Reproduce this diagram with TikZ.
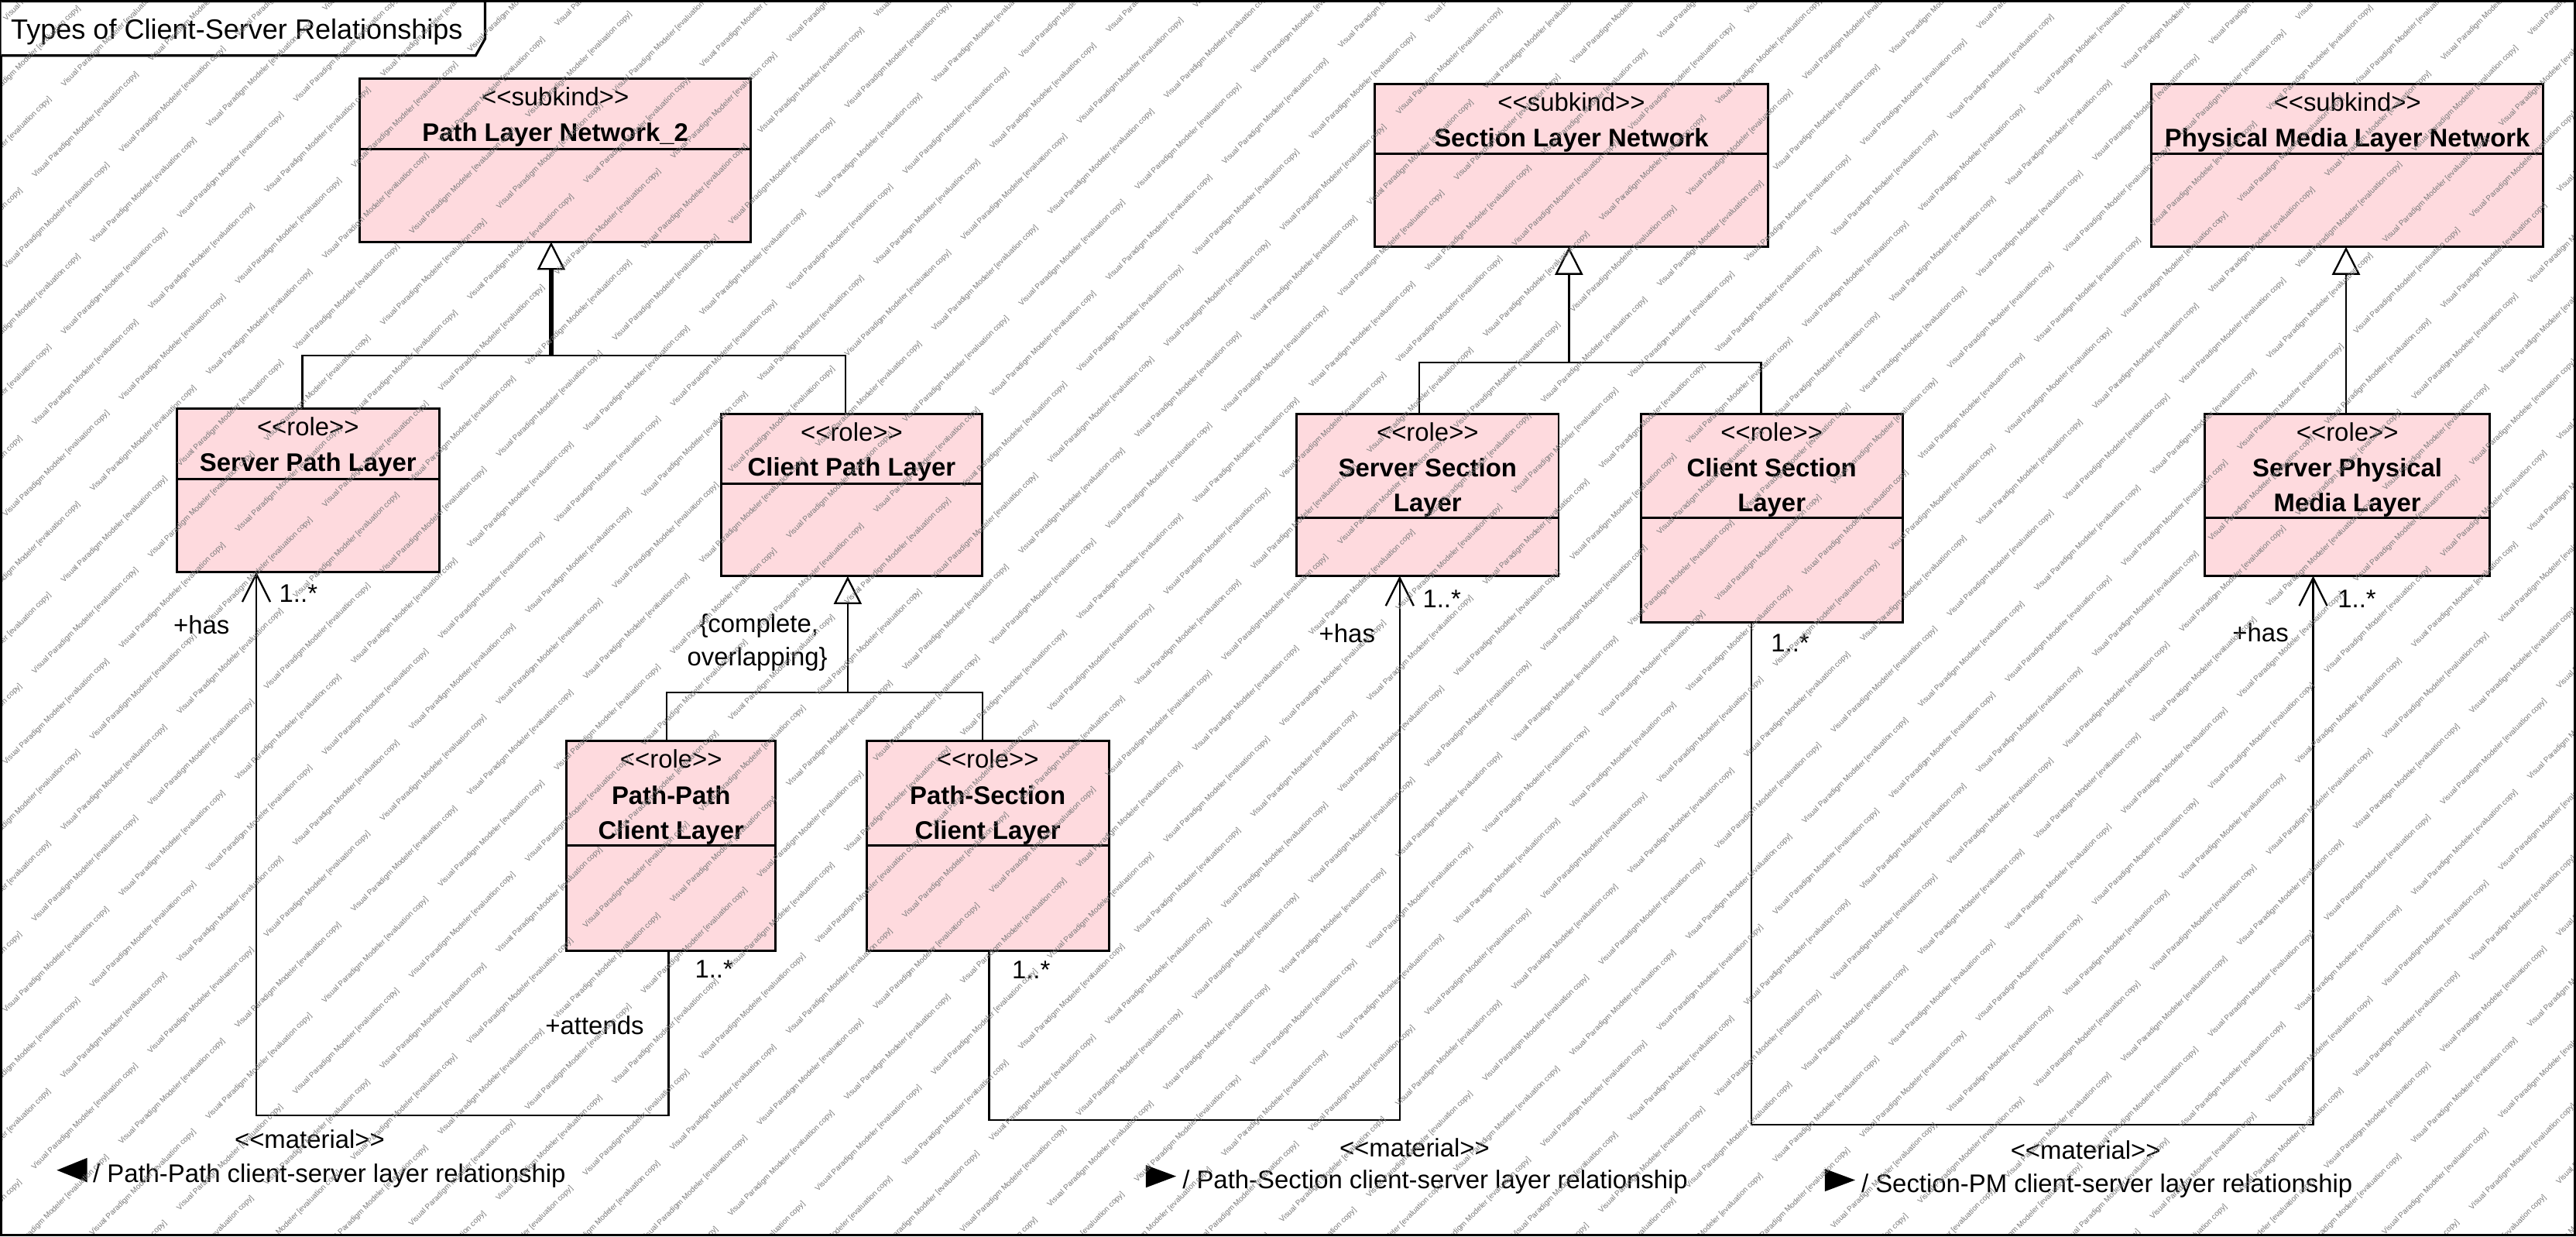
\documentclass[tikz,border=0pt]{standalone}
\usepackage{fontspec}
\setmainfont{Liberation Sans}
\usetikzlibrary{arrows.meta,fit}
\definecolor{boxpink}{RGB}{254,218,222}
\definecolor{wmgray}{RGB}{120,120,120}
\newcommand\stereo[1]{<{}<#1>{}>}
\begin{document}
\begin{tikzpicture}[x=1pt,y=-1pt,
  txt/.style={font=\fontsize{15.5}{18}\selectfont, inner sep=0pt, outer sep=0pt, anchor=base},
  bld/.style={txt, font=\fontsize{15.5}{18}\selectfont\bfseries},
  lbl/.style={txt, anchor=base west},
  lble/.style={txt, anchor=base east},
  ubox/.style={draw, fill=boxpink, line width=1.4pt, inner sep=0pt, outer sep=0pt},
  sepline/.style={line width=1.4pt},
  conn/.style={line width=1.1pt},
  gen/.style={conn, -{Triangle[open,length=17pt,width=17pt,fill=white]}},
  assoc/.style={conn, -{Straight Barb[length=17pt,width=17pt]}},
  tipmark/.style={fill=black, draw=none},
  wm/.style={font=\fontsize{4.7}{5}\selectfont, text=wmgray, inner sep=0pt, anchor=base west, rotate=45}
]
\useasboundingbox (0,0) rectangle (1568,752.2);
% frame
\draw[line width=1.5pt] (0.75,0.75) rectangle (1567.25,751.45);
\draw[line width=1.5pt, fill=white] (0.75,0.75) -- (295.3,0.75) -- (295.3,23.6) -- (289.5,33.8) -- (0.75,33.8);
\node[font=\fontsize{17}{20}\selectfont, anchor=base west, inner sep=0pt] (title) at (6.5,23.6) {Types of Client-Server Relationships};

% ---------- boxes ----------
% Path Layer Network_2
\node[ubox, fit={(219,48) (457,147.2)}] (pln) {};
\draw[sepline] (pln.west |- 0,90.6) -- (pln.east |- 0,90.6);
\node[txt] (pln-s) at (338,64.5) {\stereo{subkind}};
\node[bld] (pln-n) at (338,86.2) {Path Layer Network\_2};
% Section Layer Network
\node[ubox, fit={(837,51) (1076,150.2)}] (sln) {};
\draw[sepline] (sln.west |- 0,93.5) -- (sln.east |- 0,93.5);
\node[txt] (sln-s) at (956.5,67.5) {\stereo{subkind}};
\node[bld] (sln-n) at (956.5,89.2) {Section Layer Network};
% Physical Media Layer Network
\node[ubox, fit={(1309.5,51) (1548,150.2)}] (pmn) {};
\draw[sepline] (pmn.west |- 0,93.5) -- (pmn.east |- 0,93.5);
\node[txt] (pmn-s) at (1428.8,67.5) {\stereo{subkind}};
\node[bld] (pmn-n) at (1428.8,89.2) {Physical Media Layer Network};
% Server Path Layer
\node[ubox, fit={(107.6,248.7) (267.3,348)}] (spl) {};
\draw[sepline] (spl.west |- 0,291.3) -- (spl.east |- 0,291.3);
\node[txt] (spl-s) at (187.5,265.3) {\stereo{role}};
\node[bld] (spl-n) at (187.5,286.8) {Server Path Layer};
% Client Path Layer
\node[ubox, fit={(438.8,251.7) (598,350.6)}] (cpl) {};
\draw[sepline] (cpl.west |- 0,294.3) -- (cpl.east |- 0,294.3);
\node[txt] (cpl-s) at (518.4,268.3) {\stereo{role}};
\node[bld] (cpl-n) at (518.4,289.8) {Client Path Layer};
% Path-Path Client Layer
\node[ubox, fit={(344.9,451) (472,578.3)}] (pp) {};
\draw[sepline] (pp.west |- 0,514.6) -- (pp.east |- 0,514.6);
\node[txt] (pp-s) at (408.5,467.5) {\stereo{role}};
\node[bld] (pp-n1) at (408.5,489.2) {Path-Path};
\node[bld] (pp-n2) at (408.5,510.6) {Client Layer};
% Path-Section Client Layer
\node[ubox, fit={(527.5,451) (675,578.3)}] (ps) {};
\draw[sepline] (ps.west |- 0,514.6) -- (ps.east |- 0,514.6);
\node[txt] (ps-s) at (601.2,467.5) {\stereo{role}};
\node[bld] (ps-n1) at (601.2,489.2) {Path-Section};
\node[bld] (ps-n2) at (601.2,510.6) {Client Layer};
% Server Section Layer
\node[ubox, fit={(789.4,251.7) (948.7,350.4)}] (ssl) {};
\draw[sepline] (ssl.west |- 0,315.2) -- (ssl.east |- 0,315.2);
\node[txt] (ssl-s) at (869,268.3) {\stereo{role}};
\node[bld] (ssl-n1) at (869,290) {Server Section};
\node[bld] (ssl-n2) at (869,311.4) {Layer};
% Client Section Layer
\node[ubox, fit={(998.7,251.7) (1158,378.5)}] (csl) {};
\draw[sepline] (csl.west |- 0,315.2) -- (csl.east |- 0,315.2);
\node[txt] (csl-s) at (1078.4,268.3) {\stereo{role}};
\node[bld] (csl-n1) at (1078.4,290) {Client Section};
\node[bld] (csl-n2) at (1078.4,311.4) {Layer};
% Server Physical Media Layer
\node[ubox, fit={(1342,251.7) (1515.6,350.4)}] (spm) {};
\draw[sepline] (spm.west |- 0,315.2) -- (spm.east |- 0,315.2);
\node[txt] (spm-s) at (1428.8,268.3) {\stereo{role}};
\node[bld] (spm-n1) at (1428.8,290) {Server Physical};
\node[bld] (spm-n2) at (1428.8,311.4) {Media Layer};

% ---------- generalizations ----------
\coordinate (g1) at (335.5,216.4);
\draw[line width=2.8pt] (g1) -- (335.5,164);
\draw[gen] (g1) -- (pln.south -| 335.5,0);
\draw[conn] (spl.north -| 184,0) -- (184,216.4) -- (514.5,216.4) -- (cpl.north -| 514.5,0);

\coordinate (g2) at (516,421.4);
\draw[gen] (g2) -- (cpl.south -| 516,0);
\draw[conn] (pp.north -| 405.7,0) -- (405.7,421.4) -- (598,421.4) -- (ps.north -| 598,0);
\node[txt] (gs1) at (462,385) {\{complete,};
\node[txt] (gs2) at (461,405) {overlapping\}};

\coordinate (g3) at (955,220.6);
\draw[gen] (g3) -- (sln.south -| 955,0);
\draw[conn] (ssl.north -| 864,0) -- (864,220.6) -- (1072,220.6) -- (csl.north -| 1072,0);

\draw[gen] (spm.north -| 1428,0) -- (pmn.south -| 1428,0);

% ---------- associations ----------
% Path-Path
\draw[assoc] (pp.south -| 407,0) -- (407,678.6) -- (156,678.6) -- (spl.south -| 156,0);
\node[lble] (a1-r) at (139.7,385.8) {+has};
\node[lbl] (a1-m1) at (170,366.3) {1..*};
\node[lbl] (a1-m2) at (423,595.1) {1..*};
\node[lbl] (a1-r2) at (332,629.5) {+attends};
\node[txt] (a1-st) at (188.5,698.5) {\stereo{material}};
\fill[tipmark] (34.6,712) -- (53.1,704.5) -- (53.1,719.4) -- cycle;
\node[lbl] (a1-n) at (56.6,719.2) {/ Path-Path client-server layer relationship};
% Path-Section
\draw[assoc] (ps.south -| 602,0) -- (602,681.5) -- (852,681.5) -- (ssl.south -| 852,0);
\node[lbl] (a2-m1) at (616,595.5) {1..*};
\node[lble] (a2-r) at (837,391) {+has};
\node[lbl] (a2-m2) at (866,369.5) {1..*};
\node[txt] (a2-st) at (861,704) {\stereo{material}};
\fill[tipmark] (715.9,715.7) -- (697.5,708.9) -- (697.5,722.6) -- cycle;
\node[lbl] (a2-n) at (719.8,723.4) {/ Path-Section client-server layer relationship};
% Section-PM
\draw[assoc] (csl.south -| 1066,0) -- (1066,684.3) -- (1408,684.3) -- (spm.south -| 1408,0);
\node[lbl] (a3-m1) at (1078,396.5) {1..*};
\node[lble] (a3-r) at (1393,390.5) {+has};
\node[lbl] (a3-m2) at (1423,369.5) {1..*};
\node[txt] (a3-st) at (1269.5,705.5) {\stereo{material}};
\fill[tipmark] (1129.2,718) -- (1110.8,711.2) -- (1110.8,724.9) -- cycle;
\node[lbl] (a3-n) at (1133,725.6) {/ Section-PM client-server layer relationship};

% ---------- watermark ----------
\begin{scope}
\clip (1.5,1.5) rectangle (1566.5,750.7);
\foreach \i in {-21,...,15}{
  \foreach \j in {-19,...,7}{
    \pgfmathsetmacro\wx{1116.1+53*\i+35.3*\j}
    \pgfmathsetmacro\wy{597-15.3*\i+40.1*\j}
    \pgfmathparse{and(and(\wx>-75,\wx<1570),and(\wy>-2,\wy<830))}
    \ifdim\pgfmathresult pt>0.5pt
      \node[wm] (wm-\i-\j) at (\wx,\wy) {Visual Paradigm Modeler [evaluation copy]};
    \fi
  }
}
\end{scope}
\end{tikzpicture}
\end{document}
